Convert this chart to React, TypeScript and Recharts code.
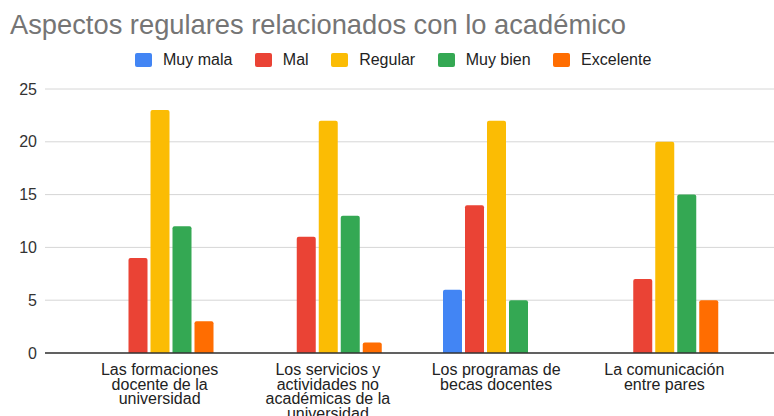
import { BarChart, Bar, XAxis, YAxis, CartesianGrid, Legend } from 'recharts';

const categories = [
  'Las formaciones\ndocente de la\nuniversidad',
  'Los servicios y\nactividades no\nacadémicas de la\nuniversidad',
  'Los programas de\nbecas docentes',
  'La comunicación\nentre pares',
];
const seriesNames = ['Muy mala', 'Mal', 'Regular', 'Muy bien', 'Excelente'];
const muyMala = [0, 0, 6, 0];
const mal = [9, 11, 14, 7];
const regular = [23, 22, 22, 20];
const muyBien = [12, 13, 5, 15];
const excelente = [3, 1, 0, 5];
const yTicks = [0, 5, 10, 15, 20, 25];

const data = categories.map((name, i) => ({
  name,
  muyMala: muyMala[i],
  mal: mal[i],
  regular: regular[i],
  muyBien: muyBien[i],
  excelente: excelente[i],
}));

const font = "'Liberation Sans', Arial, sans-serif";

// x labels come with their own line breaks, Google-style tight spacing
const CategoryTick = ({ x, y, payload }: any) => {
  const lines = String(payload.value).split('\n');
  return (
    <text x={x} y={y} textAnchor="middle" fill="#222" fontSize={16} fontFamily={font}>
      {lines.map((line, i) => (
        <tspan key={i} x={x} dy={i === 0 ? 22 : 14.5}>
          {line}
        </tspan>
      ))}
    </text>
  );
};

const LegendContent = ({ payload }: any) => (
  <div style={{ display: 'flex', alignItems: 'center', fontFamily: font }}>
    {(payload || []).map((entry: any) => (
      <div key={entry.value} style={{ display: 'flex', alignItems: 'center', marginRight: 22.5 }}>
        <span
          style={{
            display: 'inline-block',
            width: 17,
            height: 14,
            background: entry.color,
            borderRadius: 2,
            marginRight: 11,
          }}
        />
        <span style={{ fontSize: 16, color: '#222', lineHeight: '18px', whiteSpace: 'nowrap' }}>
          {entry.value}
        </span>
      </div>
    ))}
  </div>
);

export default function App() {
  return (
    <div
      style={{
        position: 'absolute',
        left: 0,
        top: 0,
        width: 774,
        height: 416,
        background: '#fff',
        fontFamily: font,
        overflow: 'hidden',
      }}
    >
      <div
        style={{
          position: 'absolute',
          left: 10,
          top: 11,
          fontSize: 27.3,
          lineHeight: '27px',
          color: '#757575',
          whiteSpace: 'nowrap',
        }}
      >
        Aspectos regulares relacionados con lo académico
      </div>
      <BarChart
        width={774}
        height={416}
        data={data}
        margin={{ top: 89, right: 0, bottom: 0, left: 0 }}
        barSize={19}
        barGap={3}
      >
        <CartesianGrid vertical={false} stroke="#d6d6d6" />
        <XAxis
          dataKey="name"
          height={63}
          interval={0}
          padding={{ left: 30.5, right: 25.5 }}
          tickLine={false}
          tickSize={0}
          tickMargin={0}
          axisLine={{ stroke: '#333', strokeWidth: 1.4 }}
          tick={<CategoryTick />}
        />
        <YAxis
          width={45}
          domain={[0, 25]}
          ticks={yTicks}
          axisLine={false}
          tickLine={false}
          tickSize={0}
          tickMargin={8}
          tick={{ fill: '#333', fontSize: 16, fontFamily: font }}
        />
        <Legend
          layout="horizontal"
          verticalAlign="middle"
          align="center"
          itemSorter={(entry: any) => seriesNames.indexOf(entry.value)}
          wrapperStyle={{ top: 51, left: 135, width: 600, height: 18 }}
          content={<LegendContent />}
        />
        <Bar dataKey="muyMala" name={seriesNames[0]} fill="#4285F4" radius={[2, 2, 0, 0]} isAnimationActive={false} />
        <Bar dataKey="mal" name={seriesNames[1]} fill="#EA4335" radius={[2, 2, 0, 0]} isAnimationActive={false} />
        <Bar dataKey="regular" name={seriesNames[2]} fill="#FBBC04" radius={[2, 2, 0, 0]} isAnimationActive={false} />
        <Bar dataKey="muyBien" name={seriesNames[3]} fill="#34A853" radius={[2, 2, 0, 0]} isAnimationActive={false} />
        <Bar dataKey="excelente" name={seriesNames[4]} fill="#FF6D01" radius={[2, 2, 0, 0]} isAnimationActive={false} />
      </BarChart>
    </div>
  );
}
